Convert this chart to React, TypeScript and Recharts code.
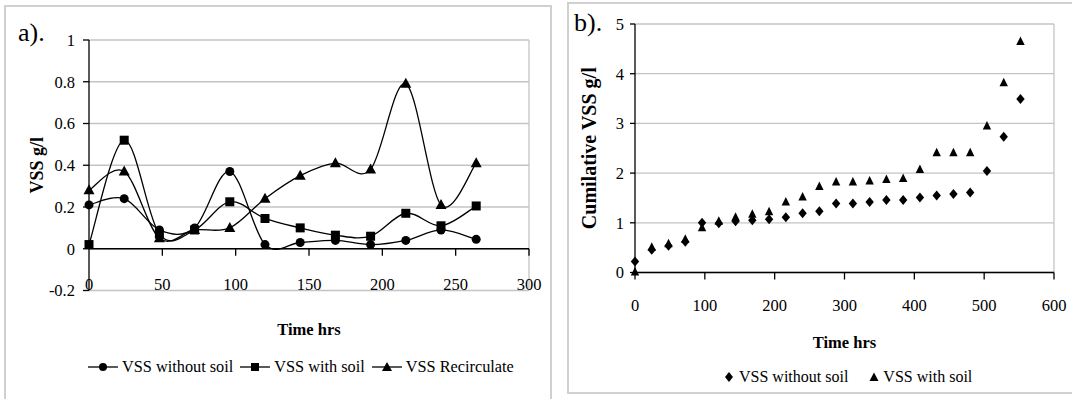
import React from 'react';
import {
  LineChart,
  Line,
  XAxis,
  YAxis,
  CartesianGrid,
  ReferenceLine,
  ScatterChart,
  Scatter,
} from 'recharts';

// ---------- Panel a data ----------
const timeA = [0, 24, 48, 72, 96, 120, 144, 168, 192, 216, 240, 264];
const vssWithoutSoil = [0.21, 0.24, 0.09, 0.1, 0.37, 0.02, 0.03, 0.04, 0.02, 0.04, 0.09, 0.045];
const vssWithSoil = [0.02, 0.52, 0.07, 0.09, 0.225, 0.145, 0.1, 0.065, 0.06, 0.17, 0.11, 0.205];
const vssRecirculate = [0.28, 0.37, 0.05, 0.09, 0.1, 0.24, 0.35, 0.41, 0.38, 0.79, 0.21, 0.41];
const xTicksA = [0, 50, 100, 150, 200, 250, 300];
const yTicksA = [-0.2, 0, 0.2, 0.4, 0.6, 0.8, 1];
const seriesNamesA = ['VSS without soil', 'VSS with soil', 'VSS Recirculate'];

// ---------- Panel b data ----------
const timeB = [0, 24, 48, 72, 96, 120, 144, 168, 192, 216, 240, 264, 288, 312, 336, 360, 384, 408, 432, 456, 480, 504, 528, 552];
const cumWithoutSoil = [0.22, 0.46, 0.54, 0.62, 1.0, 0.99, 1.03, 1.05, 1.07, 1.11, 1.19, 1.23, 1.39, 1.39, 1.42, 1.46, 1.46, 1.51, 1.55, 1.58, 1.61, 2.04, 2.73, 3.49];
const cumWithSoil = [0.0, 0.5, 0.57, 0.66, 0.89, 1.02, 1.1, 1.16, 1.21, 1.41, 1.51, 1.72, 1.81, 1.81, 1.83, 1.86, 1.88, 2.06, 2.4, 2.4, 2.4, 2.94, 3.81, 4.64];
const xTicksB = [0, 100, 200, 300, 400, 500, 600];
const yTicksB = [0, 1, 2, 3, 4, 5];
const seriesNamesB = ['VSS without soil', 'VSS with soil'];

const FONT = '"Liberation Serif", "Times New Roman", Times, serif';
const GRID = '#c4c4c4';
const BOX = '#d0d0d0';

const dataA = timeA.map((t, i) => ({
  t,
  without: vssWithoutSoil[i],
  withSoil: vssWithSoil[i],
  recirc: vssRecirculate[i],
}));
const dataBWithout = timeB.map((t, i) => ({ t, v: cumWithoutSoil[i] }));
const dataBWith = timeB.map((t, i) => ({ t, v: cumWithSoil[i] }));

// Excel-like smoothed line (Catmull-Rom through points)
const excelSmooth: any = (context: any) => {
  let pts: number[][] = [];
  return {
    areaStart() {},
    areaEnd() {},
    lineStart() {
      pts = [];
    },
    lineEnd() {
      const n = pts.length;
      if (!n) return;
      context.moveTo(pts[0][0], pts[0][1]);
      for (let i = 0; i < n - 1; i++) {
        const p0 = pts[i - 1] || pts[i];
        const p1 = pts[i];
        const p2 = pts[i + 1];
        const p3 = pts[i + 2] || pts[i + 1];
        context.bezierCurveTo(
          p1[0] + (p2[0] - p0[0]) / 6,
          p1[1] + (p2[1] - p0[1]) / 6,
          p2[0] - (p3[0] - p1[0]) / 6,
          p2[1] - (p3[1] - p1[1]) / 6,
          p2[0],
          p2[1]
        );
      }
    },
    point(x: number, y: number) {
      pts.push([+x, +y]);
    },
  };
};

const CircleDot = (p: any) => <circle key={`c${p.index}`} cx={p.cx} cy={p.cy} r={4.5} fill="#000" />;
const SquareDot = (p: any) => <rect key={`s${p.index}`} x={p.cx - 4.5} y={p.cy - 4.5} width={9} height={9} fill="#000" />;
const TriDot = (p: any) => (
  <polygon
    key={`t${p.index}`}
    points={`${p.cx},${p.cy - 6} ${p.cx + 5.5},${p.cy + 4} ${p.cx - 5.5},${p.cy + 4}`}
    fill="#000"
  />
);

const DiamondShape = (p: any) => (
  <polygon points={`${p.cx},${p.cy - 5} ${p.cx + 4.2},${p.cy} ${p.cx},${p.cy + 5} ${p.cx - 4.2},${p.cy}`} fill="#000" />
);
const TriShape = (p: any) => (
  <polygon points={`${p.cx},${p.cy - 5.5} ${p.cx + 4.2},${p.cy + 3} ${p.cx - 4.2},${p.cy + 3}`} fill="#000" />
);

const XTickA = (props: any) => {
  const { x, y, payload } = props;
  return (
    <text x={x} y={y - 1} textAnchor="middle" fontSize={16.5} fontFamily={FONT} fill="#000">
      {payload.value}
    </text>
  );
};

const textStyle = { fontFamily: FONT, fontSize: 16.5, fill: '#000' };

function LegendSymbolLine({ kind }: { kind: string }) {
  return (
    <svg width={30} height={12} style={{ display: 'block' }}>
      <line x1={0} y1={6} x2={30} y2={6} stroke="#000" strokeWidth={1.3} />
      {kind === 'circle' && <circle cx={15} cy={6} r={4} fill="#000" />}
      {kind === 'square' && <rect x={11} y={2} width={8} height={8} fill="#000" />}
      {kind === 'tri' && <polygon points="15,1 20,10 10,10" fill="#000" />}
    </svg>
  );
}

export default function App() {
  const kindsA = ['circle', 'square', 'tri'];
  return (
    <div style={{ position: 'absolute', left: 0, top: 0, width: 1072, height: 399, background: '#fff', overflow: 'hidden', fontFamily: FONT }}>
      {/* panel boxes */}
      <div style={{ position: 'absolute', left: 4, top: 5, width: 548, height: 410, border: `2px solid ${BOX}`, boxSizing: 'border-box' }} />
      <div style={{ position: 'absolute', left: 567, top: 2, width: 520, height: 392, border: `2px solid ${BOX}`, boxSizing: 'border-box' }} />

      {/* ---------- Panel a ---------- */}
      <div style={{ position: 'absolute', left: 0, top: 0 }}>
        <LineChart width={552} height={399} data={dataA} margin={{ top: 40, right: 23, bottom: 0, left: 0 }}>
          <CartesianGrid vertical={false} stroke={GRID} strokeWidth={1.3} />
          <ReferenceLine x={300} stroke={GRID} strokeWidth={1.3} />
          <XAxis
            dataKey="t"
            type="number"
            domain={[0, 300]}
            ticks={xTicksA}
            interval={0}
            axisLine={false}
            tickLine={false}
            tickSize={0}
            tickMargin={0}
            height={108.5}
            tick={<XTickA />}
            label={{
              content: (lp: any) => {
                const vb = lp.viewBox || {};
                return (
                  <text x={vb.x + vb.width / 2} y={vb.y + 44} textAnchor="middle" fontFamily={FONT} fontSize={16.5} fontWeight="bold" fill="#000">
                    Time hrs
                  </text>
                );
              },
            }}
          />
          <YAxis
            type="number"
            domain={[-0.2, 1]}
            ticks={yTicksA}
            interval={0}
            width={89}
            tickSize={6}
            tickMargin={8}
            axisLine={{ stroke: '#000', strokeWidth: 1.3 }}
            tickLine={{ stroke: '#000', strokeWidth: 1.3 }}
            tick={textStyle}
            label={{
              content: (lp: any) => {
                const vb = lp.viewBox || {};
                const cx = 37;
                const cy = vb.y + vb.height / 2;
                return (
                  <text x={cx} y={cy} transform={`rotate(-90 ${cx} ${cy})`} textAnchor="middle" dominantBaseline="central" fontFamily={FONT} fontSize={18} fontWeight="bold" fill="#000">
                    VSS g/l
                  </text>
                );
              },
            }}
          />
          <ReferenceLine y={0} stroke="#000" strokeWidth={1.3} />
          {xTicksA.slice(1).map((t) => (
            <ReferenceLine key={`tk${t}`} segment={[{ x: t, y: 0 }, { x: t, y: -0.033 }]} stroke="#000" strokeWidth={1.3} />
          ))}
          <Line dataKey="without" name={seriesNamesA[0]} type={excelSmooth} stroke="#000" strokeWidth={1.3} dot={CircleDot} activeDot={false} isAnimationActive={false} />
          <Line dataKey="withSoil" name={seriesNamesA[1]} type={excelSmooth} stroke="#000" strokeWidth={1.3} dot={SquareDot} activeDot={false} isAnimationActive={false} />
          <Line dataKey="recirc" name={seriesNamesA[2]} type={excelSmooth} stroke="#000" strokeWidth={1.3} dot={TriDot} activeDot={false} isAnimationActive={false} />
        </LineChart>
      </div>
      <div style={{ position: 'absolute', left: 18, top: 20, fontSize: 26, lineHeight: '26px', color: '#000' }}>a).</div>
      <div style={{ position: 'absolute', left: 88, top: 357, display: 'flex', alignItems: 'center', fontSize: 16.3, lineHeight: '20px', color: '#000', whiteSpace: 'nowrap' }}>
        {seriesNamesA.map((n, i) => (
          <div key={n} style={{ display: 'flex', alignItems: 'center', marginRight: 7 }}>
            <LegendSymbolLine kind={kindsA[i]} />
            <span style={{ marginLeft: 4 }}>{n}</span>
          </div>
        ))}
      </div>

      {/* ---------- Panel b ---------- */}
      <div style={{ position: 'absolute', left: 568, top: 0 }}>
        <ScatterChart width={504} height={399} margin={{ top: 24, right: 18, bottom: 0, left: 0 }}>
          <CartesianGrid vertical={false} stroke={GRID} strokeWidth={1.3} />
          <ReferenceLine x={600} stroke={GRID} strokeWidth={1.3} />
          <XAxis
            dataKey="t"
            type="number"
            domain={[0, 600]}
            ticks={xTicksB}
            interval={0}
            height={126.5}
            tickSize={7}
            tickMargin={20}
            axisLine={{ stroke: '#000', strokeWidth: 1.3 }}
            tickLine={{ stroke: '#000', strokeWidth: 1.3 }}
            tick={textStyle}
            label={{
              content: (lp: any) => {
                const vb = lp.viewBox || {};
                return (
                  <text x={vb.x + vb.width / 2} y={vb.y + 75} textAnchor="middle" fontFamily={FONT} fontSize={16.5} fontWeight="bold" fill="#000">
                    Time hrs
                  </text>
                );
              },
            }}
          />
          <YAxis
            dataKey="v"
            type="number"
            domain={[0, 5]}
            ticks={yTicksB}
            interval={0}
            width={67}
            tickSize={5}
            tickMargin={6}
            axisLine={{ stroke: '#000', strokeWidth: 1.3 }}
            tickLine={{ stroke: '#000', strokeWidth: 1.3 }}
            tick={textStyle}
            label={{
              content: (lp: any) => {
                const vb = lp.viewBox || {};
                const cx = 21;
                const cy = vb.y + vb.height / 2;
                return (
                  <text x={cx} y={cy} transform={`rotate(-90 ${cx} ${cy})`} textAnchor="middle" dominantBaseline="central" fontFamily={FONT} fontSize={20} fontWeight="bold" fill="#000">
                    Cumilative VSS g/l
                  </text>
                );
              },
            }}
          />
          <Scatter name={seriesNamesB[1]} data={dataBWith} shape={TriShape} isAnimationActive={false} />
          <Scatter name={seriesNamesB[0]} data={dataBWithout} shape={DiamondShape} isAnimationActive={false} />
        </ScatterChart>
      </div>
      <div style={{ position: 'absolute', left: 574, top: 10, fontSize: 26, lineHeight: '26px', color: '#000' }}>b).</div>
      <div style={{ position: 'absolute', left: 724, top: 367, display: 'flex', alignItems: 'center', fontSize: 16, lineHeight: '20px', color: '#000', whiteSpace: 'nowrap' }}>
        <svg width={10} height={12} style={{ display: 'block' }}>
          <polygon points="5,1 9,6 5,11 1,6" fill="#000" />
        </svg>
        <span style={{ marginLeft: 5 }}>{seriesNamesB[0]}</span>
        <svg width={10} height={12} style={{ display: 'block', marginLeft: 21 }}>
          <polygon points="5,1.5 9.5,10 0.5,10" fill="#000" />
        </svg>
        <span style={{ marginLeft: 4 }}>{seriesNamesB[1]}</span>
      </div>
    </div>
  );
}
